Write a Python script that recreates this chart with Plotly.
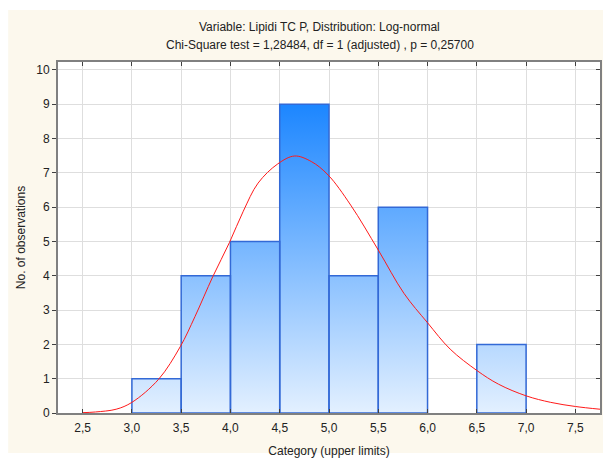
import plotly.graph_objects as go

# Histogram of Lipidi TC P (bins of width 0.5, labelled by upper limit)
bin_upper = [3.0, 3.5, 4.0, 4.5, 5.0, 5.5, 6.0, 6.5, 7.0]
counts = [0, 1, 4, 5, 9, 4, 6, 0, 2]
bin_width = 0.5

# Fitted log-normal curve (expected counts per bin)
fit_x = [2.5, 2.63, 2.84, 3.0, 3.27, 3.49, 3.64, 3.82, 3.99, 4.13, 4.28, 4.48, 4.65,
         4.82, 4.99, 5.22, 5.50, 5.76, 6.0, 6.23, 6.50, 6.72, 7.0, 7.25, 7.5, 7.75]
fit_y = [0.01, 0.03, 0.11, 0.31, 0.98, 1.93, 2.81, 3.97, 4.97, 5.88, 6.70, 7.26, 7.49,
         7.33, 6.94, 6.06, 4.75, 3.49, 2.63, 1.86, 1.24, 0.84, 0.50, 0.31, 0.19, 0.11]

x_ticks = [2.5, 3.0, 3.5, 4.0, 4.5, 5.0, 5.5, 6.0, 6.5, 7.0, 7.5]
y_ticks = list(range(0, 11))

title_lines = ["Variable: Lipidi TC P, Distribution: Log-normal",
               "Chi-Square test = 1,28484, df = 1 (adjusted) , p = 0,25700"]

FONT = "Liberation Sans, Arial, sans-serif"
CREAM = "#fcf8ed"
TXT = "#222222"

# Build closed rectangles for each non-empty bin, separated by gaps
bx, by = [], []
for up, c in zip(bin_upper, counts):
    if c <= 0:
        continue
    lo = up - bin_width
    bx += [lo, lo, up, up, lo, None]
    by += [0, c, c, 0, 0, None]

fig = go.Figure()
fig.add_trace(go.Scatter(
    x=bx, y=by, mode="lines", fill="toself",
    line=dict(color="#3369d6", width=1.5),
    fillgradient=dict(type="vertical", start=0, stop=max(counts),
                      colorscale=[[0, "#e3f0ff"], [1, "#1c86ff"]]),
    hoverinfo="skip", showlegend=False,
))
fig.add_trace(go.Scatter(
    x=fit_x, y=fit_y, mode="lines", line=dict(color="#ff1a1a", width=1, shape="spline"),
    hoverinfo="skip", showlegend=False,
))
# invisible trace that carries the mirrored (top/right) tick axes
fig.add_trace(go.Scatter(x=[x_ticks[0]], y=[0], xaxis="x2", yaxis="y2", mode="markers",
                         marker=dict(opacity=0), hoverinfo="skip", showlegend=False))

tick_text = [f"{v:.1f}".replace(".", ",") for v in x_ticks]
xr = [2.25, 7.75]
yr = [0, 10.23]

# panel geometry in pixels
L, R, T, B = 58, 1, 62, 47
PW, PH = 603 - L - R, 460 - T - B

def px_x(p):
    return (p - L) / PW

def px_y(p):
    return (460 - B - p) / PH

annotations = [
    dict(text=title_lines[0], xref="paper", yref="paper", x=px_x(320), y=px_y(27),
         xanchor="center", yanchor="middle", showarrow=False,
         font=dict(family=FONT, size=12, color=TXT)),
    dict(text=title_lines[1], xref="paper", yref="paper", x=px_x(321), y=px_y(45),
         xanchor="center", yanchor="middle", showarrow=False,
         font=dict(family=FONT, size=12, color=TXT)),
]

fig.update_layout(
    width=603, height=460,
    margin=dict(l=L, r=R, t=T, b=B),
    paper_bgcolor=CREAM, plot_bgcolor="white",
    font=dict(family=FONT, size=12, color=TXT),
    annotations=annotations,
    xaxis=dict(range=xr, tickvals=x_ticks, ticktext=tick_text,
               showgrid=True, gridcolor="#dedede", gridwidth=1,
               showline=True, linecolor="#808080", linewidth=2, mirror=True,
               ticks="inside", ticklen=4, tickcolor="#404040",
               ticklabelstandoff=3,
               zeroline=False, tickfont=dict(size=12, color=TXT),
               title=dict(text="Category (upper limits)", standoff=12,
                          font=dict(size=12, color=TXT))),
    yaxis=dict(range=yr, tickvals=y_ticks,
               showgrid=True, gridcolor="#dedede", gridwidth=1,
               showline=True, linecolor="#808080", linewidth=2, mirror=True,
               ticks="outside", ticklen=4, tickcolor="#404040",
               zeroline=False, tickfont=dict(size=12, color=TXT),
               title=dict(text="No. of observations", standoff=8,
                          font=dict(size=12, color=TXT))),
    xaxis2=dict(range=xr, overlaying="x", side="top", tickvals=x_ticks,
                ticks="inside", ticklen=4, tickcolor="#404040",
                showticklabels=False, showgrid=False, showline=False, zeroline=False),
    yaxis2=dict(range=yr, overlaying="y", side="right", tickvals=y_ticks,
                ticks="inside", ticklen=4, tickcolor="#404040",
                showticklabels=False, showgrid=False, showline=False, zeroline=False),
    shapes=[
        # white border outside the cream panel
        dict(type="rect", xref="paper", yref="paper", x0=-0.2, x1=px_x(8),
             y0=-0.2, y1=1.3, fillcolor="white", line_width=0, layer="above"),
        dict(type="rect", xref="paper", yref="paper", x0=-0.2, x1=1.2,
             y0=px_y(10), y1=1.3, fillcolor="white", line_width=0, layer="above"),
        dict(type="rect", xref="paper", yref="paper", x0=-0.2, x1=1.2,
             y0=-0.2, y1=px_y(453), fillcolor="white", line_width=0, layer="above"),
    ],
)

fig.write_html("out.html")
